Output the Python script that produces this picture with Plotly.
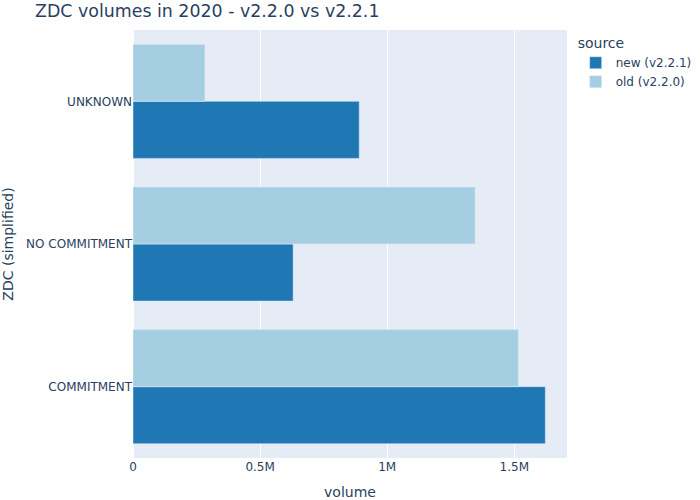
import plotly.graph_objects as go

categories = ["COMMITMENT", "NO COMMITMENT", "UNKNOWN"]
new_values = [1622000, 630000, 890000]
old_values = [1516000, 1346000, 283000]

fig = go.Figure()
fig.add_trace(go.Bar(y=categories, x=new_values, name="new (v2.2.1)", orientation="h",
                     marker=dict(color="#1f77b4")))
fig.add_trace(go.Bar(y=categories, x=old_values, name="old (v2.2.0)", orientation="h",
                     marker=dict(color="#a6cee3")))

fig.update_layout(
    template="plotly",
    width=700, height=500,
    barmode="group",
    font=dict(family="DejaVu Sans, Verdana, sans-serif"),
    title=dict(text="ZDC volumes in 2020 - v2.2.0 vs v2.2.1", x=0.05, y=0.979,
               yanchor="middle", yref="container", font=dict(size=17.4)),
    legend=dict(title=dict(text="source"), traceorder="normal"),
    xaxis=dict(title=dict(text="volume"), automargin=False),
    yaxis=dict(title=dict(text="ZDC (simplified)"), automargin=False),
    margin=dict(l=133, r=133, t=30, b=42, autoexpand=False),
)
fig.write_html("out.html", config={"displayModeBar": False},
               post_script="document.body.style.margin='0';")
